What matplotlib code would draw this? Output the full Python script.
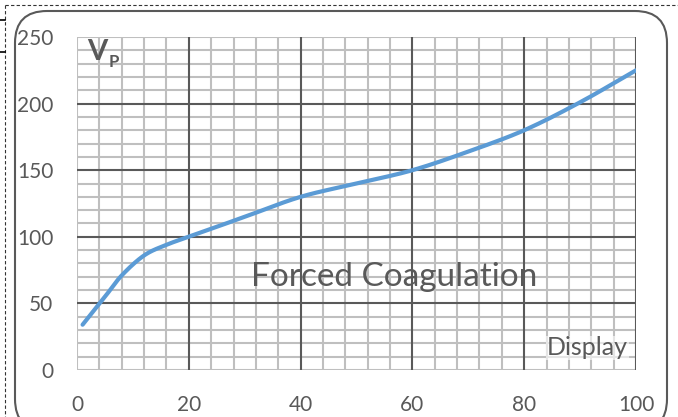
import matplotlib.pyplot as plt
import numpy as np
from matplotlib.patches import FancyBboxPatch
from matplotlib.lines import Line2D

# data
display_x = [1, 5, 8, 12, 16, 20, 30, 40, 50, 60, 70, 80, 90, 100]
vp_values = [34, 55, 71, 86, 94, 100, 115, 130, 140, 150, 164, 180, 201, 225]
x_ticks = [0, 20, 40, 60, 80, 100]
y_ticks = [0, 50, 100, 150, 200, 250]

plt.rcParams['font.family'] = ['Lato', 'DejaVu Sans']
text_color = "#595959"
line_color = "#5B9BD5"


def smooth_curve(xs, ys, n=40):
    # Catmull-Rom style curve through the points (like Excel's smoothed line)
    px = np.array(xs, dtype=float)
    py = np.array(ys, dtype=float)
    px = np.concatenate([[2 * px[0] - px[1]], px, [2 * px[-1] - px[-2]]])
    py = np.concatenate([[2 * py[0] - py[1]], py, [2 * py[-1] - py[-2]]])
    out_x, out_y = [], []
    t = np.linspace(0, 1, n)
    for i in range(1, len(px) - 2):
        for arr, out in ((px, out_x), (py, out_y)):
            p0, p1, p2, p3 = arr[i - 1], arr[i], arr[i + 1], arr[i + 2]
            m1 = (p2 - p0) / 2
            m2 = (p3 - p1) / 2
            h00 = 2 * t**3 - 3 * t**2 + 1
            h10 = t**3 - 2 * t**2 + t
            h01 = -2 * t**3 + 3 * t**2
            h11 = t**3 - t**2
            out.extend(h00 * p1 + h10 * m1 + h01 * p2 + h11 * m2)
    return np.array(out_x), np.array(out_y)


fig = plt.figure(figsize=(6.78, 4.17), dpi=100)

# background frame (rounded box + dashed outline)
bg = fig.add_axes([0, 0, 1, 1])
bg.set_xlim(0, 678)
bg.set_ylim(417, 0)
bg.axis("off")
bg.add_patch(FancyBboxPatch((15, 11), 652, 420, boxstyle="round,pad=0,rounding_size=32",
                            facecolor="white", edgecolor="#595959", linewidth=1.5))
bg.add_line(Line2D([5, 678], [5, 5], color="#333333", lw=0.8, ls=(0, (3, 2))))
bg.add_line(Line2D([5, 5], [5, 417], color="#333333", lw=0.8, ls=(0, (3, 2))))
bg.add_line(Line2D([0, 5], [20, 20], color="black", lw=1.2))
bg.add_line(Line2D([0, 5], [52, 52], color="black", lw=1.2))

ax = fig.add_axes([77 / 678, 47 / 417, (636 - 77) / 678, (370 - 37) / 417])
ax.set_facecolor("none")
ax.set_xlim(0, 100)
ax.set_ylim(0, 250)

# minor grid
for v in np.arange(0, 101, 4):
    if v not in x_ticks or v == 0:
        ax.axvline(v, color="#bfbfbf", lw=1.5, zorder=1)
for v in np.arange(0, 251, 10):
    if v not in y_ticks or v in (0, 250):
        ax.axhline(v, color="#bfbfbf", lw=1.5, zorder=1)
# major grid
for v in x_ticks[1:]:
    ax.axvline(v, color="#595959", lw=1.5, zorder=2)
for v in y_ticks[1:-1]:
    ax.axhline(v, color="#595959", lw=1.5, zorder=2)

sx, sy = smooth_curve(display_x, vp_values)
ax.plot(sx, sy, color=line_color, lw=3, solid_capstyle="round", zorder=3)

for s in ax.spines.values():
    s.set_visible(False)
ax.set_xticks(x_ticks)
ax.set_yticks(y_ticks)
ax.tick_params(length=0, labelsize=15, labelcolor=text_color)
ax.tick_params(axis="y", pad=17)
ax.tick_params(axis="x", pad=18)

ax.text(56.7, 70, "Forced Coagulation", fontsize=24, color=text_color, ha="center", va="center", zorder=4)
ax.text(98.6, 8, "Display", fontsize=18, color=text_color, ha="right", va="bottom", zorder=4,
        bbox=dict(facecolor="white", edgecolor="none", pad=0.5, alpha=0.6))
ax.text(1.8, 239, "V", fontsize=21, fontweight="bold", color=text_color, ha="left", va="center", zorder=4)
ax.text(5.6, 231, "P", fontsize=12, fontweight="bold", color=text_color, ha="left", va="center", zorder=4)

fig.savefig("out.png", dpi=100)
